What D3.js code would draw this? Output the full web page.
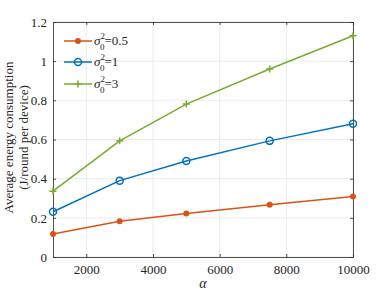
<!DOCTYPE html>
<html>
<head>
<meta charset="utf-8">
<script src="https://cdn.jsdelivr.net/npm/d3@7"></script>
<style>
  body { margin: 0; background: #fff; }
</style>
</head>
<body>
<div id="chart"></div>
<script>
const W = 390, H = 292
const margin = {top: 22, right: 37, bottom: 35, left: 53}
const width = W - margin.left - margin.right
const height = H - margin.top - margin.bottom
const FONT = "'Liberation Serif', 'DejaVu Serif', serif"

// data
const alphas = [1000, 3000, 5000, 7500, 10000]
const s05 = [0.118, 0.183, 0.222, 0.267, 0.309]
const s1 = [0.231, 0.390, 0.490, 0.593, 0.680]
const s3 = [0.336, 0.593, 0.781, 0.960, 1.130]
const xTicks = [2000, 4000, 6000, 8000, 10000]
const yTicks = [0, 0.2, 0.4, 0.6, 0.8, 1, 1.2]
const legendVals = ['0.5', '1', '3']

const series = [
  {vals: s05, color: '#D95319', marker: 'dot'},
  {vals: s1, color: '#0072BD', marker: 'circle'},
  {vals: s3, color: '#77AC30', marker: 'plus'}
]

var svg = d3.select('#chart').append('svg')
  .attr('width', W).attr('height', H)
  .style('font-family', FONT)
var g = svg.append('g')
  .attr('transform', 'translate(' + margin.left + ',' + margin.top + ')')

var x = d3.scaleLinear().domain([1000, 10000]).range([0, width])
var y = d3.scaleLinear().domain([0, 1.2]).range([height, 0])

// grid
g.append('g').selectAll('line').data(xTicks).join('line')
  .attr('x1', d => x(d)).attr('x2', d => x(d))
  .attr('y1', 0).attr('y2', height)
  .attr('stroke', '#ebebeb').attr('stroke-width', 1)
g.append('g').selectAll('line').data(yTicks).join('line')
  .attr('y1', d => y(d)).attr('y2', d => y(d))
  .attr('x1', 0).attr('x2', width)
  .attr('stroke', '#ebebeb').attr('stroke-width', 1)

// axes (box on, ticks inward)
function styleAxis(sel) {
  sel.attr('font-family', null).style('font-family', FONT)
  sel.select('.domain').attr('stroke', '#262626').attr('stroke-width', 0.8)
  sel.selectAll('.tick line').attr('stroke', '#262626').attr('stroke-width', 0.8)
  sel.selectAll('.tick text').style('font-size', '13px').style('font-family', FONT).attr('fill', '#262626')
}
var xAxis = g.append('g').attr('transform', 'translate(0,' + height + ')')
  .call(d3.axisBottom(x).tickValues(xTicks).tickSizeInner(-3).tickSizeOuter(0).tickPadding(8).tickFormat(d3.format('d')))
styleAxis(xAxis)
var yAxis = g.append('g')
  .call(d3.axisLeft(y).tickValues(yTicks).tickSizeInner(-3).tickSizeOuter(0).tickPadding(6).tickFormat(d => d3.format('')(d)))
styleAxis(yAxis)
var xTop = g.append('g')
  .call(d3.axisTop(x).tickValues(xTicks).tickSizeInner(-3).tickSizeOuter(0).tickFormat(''))
styleAxis(xTop)
var yRight = g.append('g').attr('transform', 'translate(' + width + ',0)')
  .call(d3.axisRight(y).tickValues(yTicks).tickSizeInner(-3).tickSizeOuter(0).tickFormat(''))
styleAxis(yRight)

// lines
var line = d3.line().x((d, i) => x(alphas[i])).y(d => y(d))

function drawMarker(sel, type, color) {
  if (type === 'dot') {
    sel.append('circle').attr('r', 3).attr('fill', color)
  } else if (type === 'circle') {
    sel.append('circle').attr('r', 3.5).attr('fill', 'none').attr('stroke', color).attr('stroke-width', 1.5)
  } else {
    sel.append('path').attr('d', 'M-3.5,0H3.5M0,-3.5V3.5').attr('stroke', color).attr('stroke-width', 1.5)
  }
}

series.forEach(s => {
  g.append('path').datum(s.vals)
    .attr('d', line)
    .attr('fill', 'none')
    .attr('stroke', s.color)
    .attr('stroke-width', 1.5)
  g.append('g').selectAll('g').data(s.vals).join('g')
    .attr('transform', (d, i) => 'translate(' + x(alphas[i]) + ',' + y(d) + ')')
    .each(function () { drawMarker(d3.select(this), s.marker, s.color) })
})

// legend
var legY = [41, 62, 84]
series.forEach((s, i) => {
  var lg = svg.append('g').attr('transform', 'translate(64,' + legY[i] + ')')
  lg.append('line').attr('x1', 0).attr('x2', 28).attr('stroke', s.color).attr('stroke-width', 1.5)
  var m = lg.append('g').attr('transform', 'translate(14,0)')
  drawMarker(m, s.marker, s.color)
  var t = lg.append('text').attr('x', 30).attr('y', 4).style('font-size', '13px').attr('fill', '#262626')
  t.append('tspan').style('font-style', 'italic').text('σ')
  t.append('tspan').attr('dy', -6).style('font-size', '9px').text('2')
  t.append('tspan').attr('dx', -5).attr('dy', 11).style('font-size', '9px').text('0')
  t.append('tspan').attr('dy', -5).text('=' + legendVals[i])
})

// axis labels
svg.append('text')
  .attr('x', margin.left + width / 2).attr('y', 288)
  .attr('text-anchor', 'middle').attr('fill', '#262626')
  .style('font-size', '14px').style('font-style', 'italic')
  .text('α')
var yl = svg.append('text')
  .attr('transform', 'translate(13,' + (margin.top + height / 2 - 2) + ') rotate(-90)')
  .attr('text-anchor', 'middle').attr('fill', '#262626')
  .style('font-size', '13px')
yl.append('tspan').attr('x', 0).attr('y', 0).text('Average energy consumption')
yl.append('tspan').attr('x', 0).attr('y', 15).text('(J/round per device)')
</script>
</body>
</html>
